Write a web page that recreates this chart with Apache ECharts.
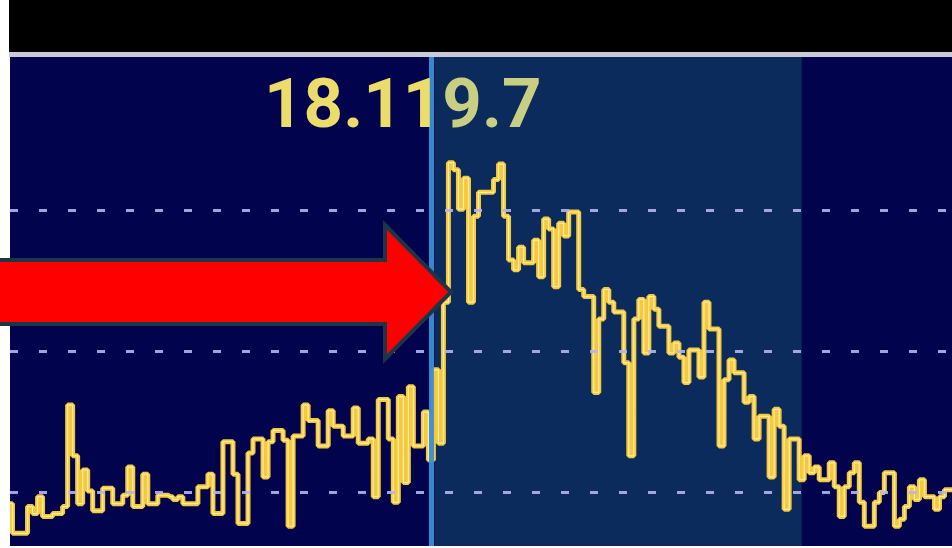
<!DOCTYPE html>
<html>
<head>
<meta charset="utf-8">
<script src="https://cdn.jsdelivr.net/npm/echarts@6/dist/echarts.min.js"></script>
<style>
  html, body { margin: 0; padding: 0; background: #fff; }
  #main { width: 952px; height: 548px; }
</style>
</head>
<body>
<div id="main"></div>
<script>
// spectrum bins, level in dB (grid lines at -80 / -70 / -60)
var levels = [
  -80.8, -82.9, -82.9, -82.9, -81.0, -81.5, -80.3, -81.7, -81.7, -81.5,
  -81.5, -81.0, -73.8, -77.4, -80.8, -78.4, -79.9, -81.3, -81.3, -79.7,
  -79.7, -80.8, -80.8, -80.2, -78.2, -81.0, -81.0, -78.7, -80.8, -80.8,
  -80.2, -80.2, -80.3, -80.5, -80.3, -80.8, -80.8, -80.8, -79.6, -79.6,
  -78.7, -81.5, -81.5, -76.4, -76.4, -78.7, -82.2, -82.2, -77.2, -76.2,
  -76.2, -78.9, -76.4, -75.6, -75.6, -76.3, -82.4, -76.0, -76.0, -73.8,
  -74.9, -74.9, -76.7, -76.7, -74.2, -75.3, -75.3, -76.0, -76.0, -74.0,
  -76.5, -76.5, -76.2, -80.3, -73.4, -73.4, -76.2, -80.7, -73.2, -79.3,
  -72.5, -76.7, -76.7, -74.3, -77.7, -71.3, -76.5, -66.5, -56.6, -57.1,
  -59.9, -57.7, -66.5, -60.4, -58.7, -58.7, -58.7, -57.8, -56.7, -60.4,
  -63.5, -64.2, -62.6, -63.7, -63.7, -62.1, -64.7, -60.6, -61.3, -65.4,
  -60.9, -61.8, -60.1, -60.1, -65.6, -66.1, -66.1, -72.9, -67.7, -65.6,
  -66.5, -67.2, -67.2, -70.8, -77.4, -67.7, -66.3, -70.1, -66.1, -67.0,
  -68.2, -68.2, -70.1, -69.4, -70.4, -72.2, -69.9, -69.9, -71.8, -66.5,
  -68.4, -68.4, -76.7, -72.0, -70.6, -71.5, -71.5, -73.6, -73.2, -76.2,
  -74.6, -74.6, -78.9, -74.1, -75.3, -81.2, -76.2, -76.2, -79.1, -77.4,
  -78.6, -78.2, -79.1, -79.1, -77.9, -79.6, -81.7, -79.6, -78.6, -77.9,
  -80.7, -82.4, -82.4, -80.7, -80.0, -78.6, -78.6, -82.4, -81.9, -81.0,
  -79.6, -80.5, -79.1, -80.3, -80.3, -81.2, -80.3, -79.8, -79.8
];
var gridLevels = [-80, -70, -60];
var passband = [84.7, 158];   // filter passband, in bins
var cursorBin = 84.1;
var freqText = ['18.11', '9.7'];

var data = levels.map(function (v, i) { return [i, v]; });

var chart = echarts.init(document.getElementById('main'));

var markLines = gridLevels.map(function (v) {
  return {
    yAxis: v,
    lineStyle: { color: '#b4b4f0', type: [8, 21], width: 3, opacity: 0.9 }
  };
});
markLines.push({
  xAxis: cursorBin,
  lineStyle: { color: '#3a8ed4', type: 'solid', width: 5, opacity: 0.95 }
});

chart.setOption({
  backgroundColor: '#ffffff',
  animation: false,
  grid: {
    left: 10,
    right: 0,
    top: 57,
    bottom: 2,
    show: true,
    backgroundColor: '#01034c',
    borderWidth: 0
  },
  xAxis: {
    type: 'value',
    min: 0,
    max: levels.length - 1,
    show: false
  },
  yAxis: {
    type: 'value',
    min: -83.8,
    max: -49.1,
    show: false
  },
  graphic: [
    { type: 'rect', shape: { x: 9, y: 0, width: 943, height: 52 }, style: { fill: '#000000' }, z: 100 },
    { type: 'rect', shape: { x: 9, y: 52, width: 943, height: 5 }, style: { fill: '#c9cad8' }, z: 100 },
    {
      type: 'text',
      x: 264,
      y: 110,
      z: 100,
      style: {
        text: '{a|' + freqText[0] + '}{b|' + freqText[1] + '}',
        verticalAlign: 'middle',
        rich: {
          a: { fontFamily: 'Roboto', fontWeight: 'bold', fontSize: 69, fill: '#ecdc6c' },
          b: { fontFamily: 'Roboto', fontWeight: 'bold', fontSize: 69, fill: '#c9cf82' }
        }
      }
    },
    {
      type: 'polygon',
      z: 110,
      shape: {
        points: [[-5, 260], [385, 260], [385, 225], [451, 292], [385, 359], [385, 324], [-5, 324]]
      },
      style: { fill: '#ff0000', stroke: '#1f3447', lineWidth: 4, lineJoin: 'miter' }
    }
  ],
  series: [
    {
      type: 'line',
      step: 'middle',
      data: data,
      showSymbol: false,
      silent: true,
      lineStyle: { color: '#f5c93a', width: 5 },
      markArea: {
        silent: true,
        itemStyle: { color: '#0b2b5c' },
        data: [[{ xAxis: passband[0] }, { xAxis: passband[1] }]]
      },
      markLine: {
        silent: true,
        symbol: 'none',
        label: { show: false },
        data: markLines
      },
      z: 3
    },
    {
      type: 'line',
      step: 'middle',
      data: data,
      showSymbol: false,
      silent: true,
      lineStyle: { color: 'rgba(255,246,205,0.8)', width: 1.2 },
      z: 4
    }
  ]
});
</script>
</body>
</html>
